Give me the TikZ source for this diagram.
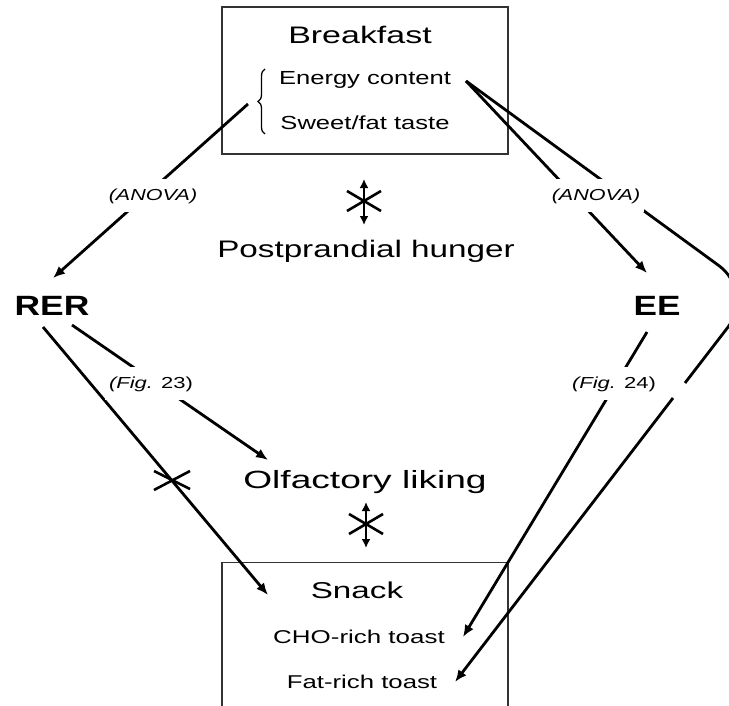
\documentclass[tikz,border=0pt]{standalone}
\usepackage{fontspec}
\setmainfont{Liberation Sans}
\usepackage{graphicx}
\usetikzlibrary{arrows.meta,decorations.pathreplacing,calc}
\newcommand{\hs}[2]{\scalebox{#1}[1]{#2}}
\begin{document}
\begin{tikzpicture}[x=1bp,y=-1bp,
  lbl/.style={inner sep=0pt, anchor=base},
  conn/.style={line width=2.8bp, -{Latex[length=12bp,width=10bp]}},
  plain/.style={line width=2.8bp},
  dbl/.style={line width=2.6bp, {Latex[length=9bp,width=9bp]}-{Latex[length=9bp,width=9bp]}},
  tick/.style={line width=2.6bp},
  tag/.style={fill=white, inner xsep=4bp, inner ysep=9bp, anchor=base, font=\fontsize{16}{18}\selectfont},
  box/.style={draw=black!80, line width=1.4bp, inner sep=0pt},
  ]
\useasboundingbox (0,0) rectangle (729,706);
\clip (0,0) rectangle (729,706);

% boxes
\node[box, minimum width=286bp, minimum height=147bp] (bbox) at (365,80.5) {};
\node[box, minimum width=286bp, minimum height=170bp, anchor=north] (sbox) at (365,562) {};

% texts
\node[lbl, font=\fontsize{24}{28}\selectfont] (bf) at (360,44) {\hs{1.42}{Breakfast}};
\node[lbl, font=\fontsize{19}{22}\selectfont] (ec) at (365,85) {\hs{1.35}{Energy content}};
\node[lbl, font=\fontsize{19}{22}\selectfont] (sf) at (365,130) {\hs{1.35}{Sweet/fat taste}};
\node[lbl, font=\fontsize{24}{28}\selectfont] (ph) at (366,257) {\hs{1.39}{Postprandial hunger}};
\node[lbl, font=\fontsize{28}{32}\selectfont\bfseries] (rer) at (52,315) {\hs{1.27}{RER}};
\node[lbl, font=\fontsize{28}{32}\selectfont\bfseries] (ee) at (657,315) {\hs{1.26}{EE}};
\node[lbl, font=\fontsize{25}{29}\selectfont] (ol) at (365,488) {\hs{1.49}{Olfactory liking}};
\node[lbl, font=\fontsize{23}{27}\selectfont] (sn) at (357,598) {\hs{1.45}{Snack}};
\node[lbl, font=\fontsize{18.6}{22}\selectfont] (cho) at (359,643) {\hs{1.40}{CHO-rich toast}};
\node[lbl, font=\fontsize{18.6}{22}\selectfont] (fat) at (362,688) {\hs{1.39}{Fat-rich toast}};

% brace
\draw[line width=1.3bp, decorate, decoration={brace, amplitude=7bp}] (265,134) -- (265,69);

% connector end points
\coordinate (b1) at (248,104);
\coordinate (r1) at (53,278);
\coordinate (e1) at (466,81);
\coordinate (ee1) at (647,273);
\coordinate (bend) at (755,292);
\coordinate (g1) at (685,383);
\coordinate (g2) at (673,398);
\coordinate (fatin) at (455,682);
\coordinate (r2) at (43,327);
\coordinate (s1) at (268,595);
\coordinate (r3) at (72,325);
\coordinate (o1) at (268,460);
\coordinate (ee2) at (647,332);
\coordinate (c1) at (463,637);

% connectors
\draw[conn] (b1) -- (r1);
\draw[conn] (e1) -- (ee1);
\draw[plain, rounded corners=45bp] (e1) -- (bend) -- (g1);
\draw[conn] (g2) -- (fatin);
\draw[conn] (r2) -- (s1);
\draw[conn] (r3) -- (o1);
\draw[conn] (ee2) -- (c1);

% cross on RER -> snack
\coordinate (xc) at (172,480);
\draw[tick] (154,471) -- (190,489);
\draw[tick] (154,490) -- (190,471);

% no-effect double arrows
\coordinate (a1) at (364,179);
\coordinate (a2) at (364,225);
\draw[dbl] (a1) -- (a2);
\draw[tick] (347,191) -- (381,211);
\draw[tick] (347,211) -- (381,191);
\coordinate (a3) at (366,502);
\coordinate (a4) at (366,548);
\draw[dbl] (a3) -- (a4);
\draw[tick] (349,514) -- (383,534);
\draw[tick] (349,534) -- (383,514);

% labels on connectors
\node[tag] (an1) at (153,200) {\hs{1.35}{\itshape (ANOVA)}};
\node[tag] (an2) at (596,200) {\hs{1.35}{\itshape (ANOVA)}};
\node[tag] (f23) at (151,388) {\hs{1.38}{{\itshape (Fig.} 23)}};
\node[tag] (f24) at (614,388) {\hs{1.38}{{\itshape (Fig.} 24)}};
\end{tikzpicture}
\end{document}
